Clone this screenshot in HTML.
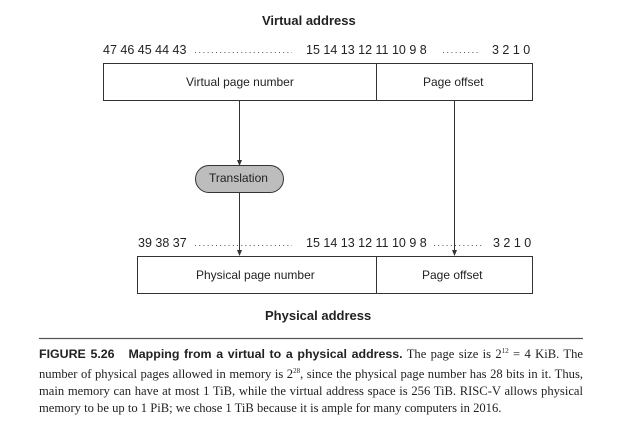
<!DOCTYPE html>
<html><head><style>
body{margin:0;background:#fff;width:622px;height:423px;overflow:hidden;position:relative;font-family:"Liberation Sans",sans-serif;}
.t{position:absolute;white-space:nowrap;color:#222;}
.b{position:absolute;white-space:nowrap;color:#222;font-size:12.5px;}
.cap{position:absolute;left:39px;width:544px;font-family:"Liberation Serif",serif;font-size:12.6px;line-height:17px;color:#222;text-align:justify;}
.cap b{font-family:"Liberation Sans",sans-serif;font-weight:bold;font-size:12.4px;}
</style></head><body>
<svg width="622" height="423" style="position:absolute;left:0;top:0">
<g fill="none" stroke="#333" stroke-width="1">
<rect x="103.5" y="63.5" width="429" height="37"/>
<line x1="376.5" y1="63" x2="376.5" y2="100"/>
<rect x="137.5" y="256.5" width="395" height="37"/>
<line x1="376.5" y1="256" x2="376.5" y2="293"/>
<line x1="239.5" y1="100" x2="239.5" y2="162"/>
<line x1="239.5" y1="192" x2="239.5" y2="251"/>
<line x1="454.5" y1="100" x2="454.5" y2="251"/>
<rect x="195.5" y="165.5" width="88" height="27" rx="13.5" fill="#bdbdbd"/>
</g>
<g stroke="#555" stroke-width="1" stroke-dasharray="1 3.2">
<line x1="195" y1="52.5" x2="292" y2="52.5"/>
<line x1="443" y1="52.5" x2="479" y2="52.5"/>
<line x1="195" y1="245.5" x2="292" y2="245.5"/>
<line x1="434" y1="245.5" x2="483" y2="245.5"/>
</g>
<g fill="#333">
<polygon points="237,160 242,160 239.5,166"/>
<polygon points="237,250 242,250 239.5,256"/>
<polygon points="452,250 457,250 454.5,256"/>
</g>
<line x1="39" y1="338.5" x2="583" y2="338.5" stroke="#555" stroke-width="1.2"/>
</svg>
<div class="t" style="left:262px;top:13px;font-size:13px;font-weight:bold">Virtual address</div>
<div class="b" style="left:103px;top:43px">47 46 45 44 43</div>
<div class="b" style="left:306px;top:43px">15 14 13 12 11 10 9 8</div>
<div class="b" style="left:492px;top:43px">3 2 1 0</div>
<div class="t" style="left:186px;top:75px;font-size:12px">Virtual page number</div>
<div class="t" style="left:423px;top:75px;font-size:12px">Page offset</div>
<div class="t" style="left:209px;top:171px;font-size:12px">Translation</div>
<div class="b" style="left:138px;top:236px">39 38 37</div>
<div class="b" style="left:306px;top:236px">15 14 13 12 11 10 9 8</div>
<div class="b" style="left:493px;top:236px">3 2 1 0</div>
<div class="t" style="left:196px;top:268px;font-size:12px">Physical page number</div>
<div class="t" style="left:422px;top:268px;font-size:12px">Page offset</div>
<div class="t" style="left:265px;top:308px;font-size:13px;font-weight:bold">Physical address</div>
<div class="cap" style="top:343px"><b>FIGURE 5.26&nbsp;&nbsp; Mapping from a virtual to a physical address.</b> The page size is 2<sup style="font-size:7px">12</sup> = 4 KiB. The number of physical pages allowed in memory is 2<sup style="font-size:7px">28</sup>, since the physical page number has 28 bits in it. Thus, main memory can have at most 1 TiB, while the virtual address space is 256 TiB. RISC-V allows physical memory to be up to 1 PiB; we chose 1 TiB because it is ample for many computers in 2016.</div>
</body></html>
